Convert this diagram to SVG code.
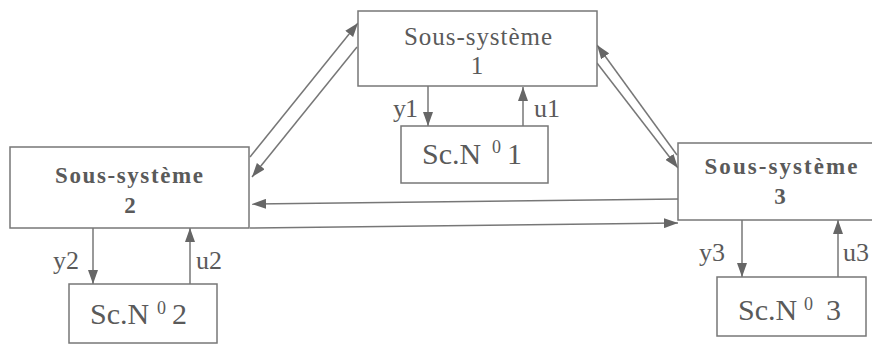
<svg xmlns="http://www.w3.org/2000/svg" width="872" height="346" viewBox="0 0 872 346">
<defs>
<marker id="ah" markerUnits="userSpaceOnUse" markerWidth="14" markerHeight="10" refX="14" refY="5" orient="auto">
<path d="M0,0 L14,5 L0,10 z" fill="#666"/>
</marker>
<style>
.box{fill:#fff;stroke:#777;stroke-width:1.5}
.t{font-family:"Liberation Serif","Times New Roman",serif;fill:#5a5a5a}
.title{font-size:25px;text-anchor:middle}
.bold{font-weight:bold;font-size:23px}
.sc{font-size:30px}
.sup{font-size:18px}
.lab{font-size:26px}
.c{stroke:#777;stroke-width:1.5;fill:none;marker-end:url(#ah)}
</style>
</defs>
<rect width="872" height="346" fill="#fff"/>
<g id="connectors">
<line class="c" x1="250" y1="157" x2="358" y2="23"/>
<line class="c" x1="357" y1="47" x2="252" y2="177"/>
<line class="c" x1="677" y1="155" x2="597" y2="45"/>
<line class="c" x1="597" y1="63" x2="678" y2="168"/>
<line class="c" x1="679" y1="199" x2="252" y2="204"/>
<line class="c" x1="250" y1="228" x2="678" y2="223"/>
<line class="c" x1="428" y1="86" x2="428" y2="126"/>
<line class="c" x1="523" y1="126" x2="523" y2="87"/>
<line class="c" x1="93" y1="228" x2="93" y2="284"/>
<line class="c" x1="190" y1="284" x2="190" y2="228"/>
<line class="c" x1="742" y1="220" x2="742" y2="277"/>
<line class="c" x1="838" y1="277" x2="838" y2="220"/>
<text class="t lab" x="393" y="117" textLength="25" lengthAdjust="spacing">y1</text>
<text class="t lab" x="534" y="117" textLength="26" lengthAdjust="spacing">u1</text>
<text class="t lab" x="53" y="269">y2</text>
<text class="t lab" x="196" y="269">u2</text>
<text class="t lab" x="699" y="261">y3</text>
<text class="t lab" x="843" y="261">u3</text>
</g>
<g id="ss1">
<rect class="box" x="358" y="11" width="239" height="75"/>
<text class="t title" x="478" y="45" textLength="148" lengthAdjust="spacing">Sous-système</text>
<text class="t title" x="477" y="74">1</text>
</g>
<g id="ss2">
<rect class="box" x="10" y="147" width="239" height="81"/>
<text class="t title bold" x="129" y="183" textLength="148" lengthAdjust="spacing">Sous-système</text>
<text class="t title bold" x="130" y="213">2</text>
</g>
<g id="ss3">
<rect class="box" x="678" y="143" width="200" height="77"/>
<text class="t title bold" x="781" y="174" textLength="153" lengthAdjust="spacing">Sous-système</text>
<text class="t title bold" x="780" y="204">3</text>
</g>
<g id="sc1">
<rect class="box" x="401" y="126" width="147" height="57"/>
<text class="t sc" x="422" y="164"><tspan>Sc.N</tspan><tspan class="sup" x="492" y="153">0</tspan><tspan x="507" y="164">1</tspan></text>
</g>
<g id="sc2">
<rect class="box" x="69" y="284" width="148" height="59"/>
<text class="t sc" x="90" y="324"><tspan>Sc.N</tspan><tspan class="sup" x="157" y="314">0</tspan><tspan x="172" y="324">2</tspan></text>
</g>
<g id="sc3">
<rect class="box" x="717" y="277" width="149" height="59"/>
<text class="t sc" x="738" y="320"><tspan>Sc.N</tspan><tspan class="sup" x="804" y="310">0</tspan><tspan x="826" y="320">3</tspan></text>
</g>
</svg>
